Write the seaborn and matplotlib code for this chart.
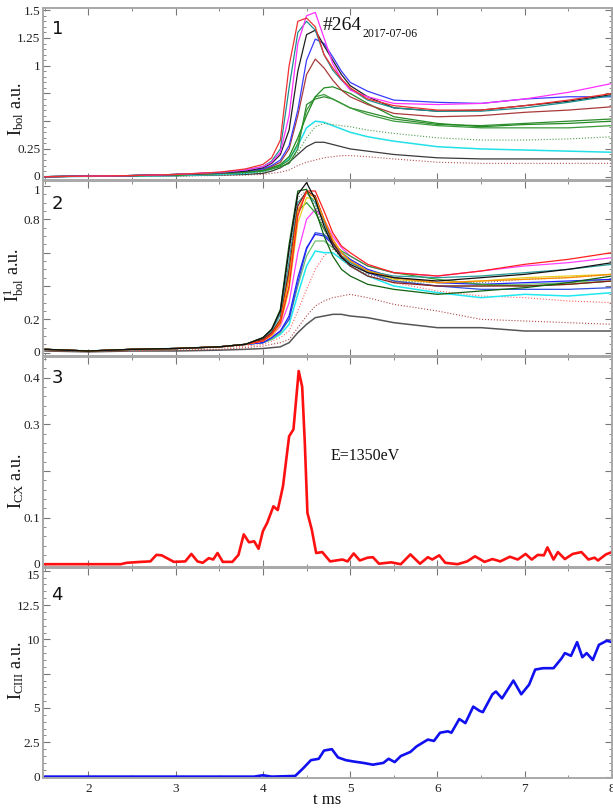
import numpy as np
import pandas as pd
import matplotlib
matplotlib.use("Agg")
import matplotlib.pyplot as plt
import matplotlib.ticker as mticker
import matplotlib.transforms as mtransforms
import seaborn as sns

# ---------------- data ----------------
T_BOL = [1.5, 2.0, 2.5, 3.0, 3.5, 3.8, 4.0, 4.1, 4.2, 4.3, 4.4, 4.5,
         4.6, 4.7, 4.8, 4.9, 5.0, 5.2, 5.5, 6.0, 6.5, 7.0, 7.5, 8.0]

# panel 1: I_bol
bol_red = [0, 0.005, 0.01, 0.02, 0.04, 0.07, 0.11, 0.17, 0.33, 1.0, 1.40, 1.43, 1.35, 1.10, 0.98, 0.88, 0.80, 0.70, 0.64, 0.60, 0.60, 0.64, 0.69, 0.75]
bol_magenta = [0, 0.005, 0.01, 0.02, 0.04, 0.06, 0.09, 0.13, 0.22, 0.55, 1.20, 1.45, 1.48, 1.25, 1.02, 0.88, 0.78, 0.72, 0.66, 0.65, 0.66, 0.70, 0.76, 0.84]
bol_teal = [0, 0.005, 0.01, 0.02, 0.035, 0.06, 0.09, 0.14, 0.25, 0.80, 1.30, 1.40, 1.32, 1.10, 0.96, 0.87, 0.79, 0.69, 0.62, 0.59, 0.59, 0.62, 0.67, 0.73]
bol_black = [0, 0.005, 0.01, 0.02, 0.035, 0.05, 0.08, 0.12, 0.20, 0.42, 0.95, 1.28, 1.32, 1.18, 1.05, 0.92, 0.82, 0.72, 0.62, 0.59, 0.60, 0.64, 0.68, 0.74]
bol_blue = [0, 0.005, 0.01, 0.02, 0.035, 0.05, 0.07, 0.10, 0.15, 0.28, 0.60, 1.05, 1.24, 1.20, 1.08, 0.95, 0.85, 0.77, 0.69, 0.67, 0.66, 0.70, 0.72, 0.72]
bol_brown = [0, 0.005, 0.01, 0.02, 0.03, 0.05, 0.07, 0.09, 0.13, 0.25, 0.55, 0.92, 1.06, 0.98, 0.87, 0.78, 0.72, 0.65, 0.57, 0.54, 0.55, 0.58, 0.60, 0.63]
bol_green_a = [0, 0.005, 0.01, 0.015, 0.03, 0.04, 0.06, 0.08, 0.11, 0.18, 0.35, 0.55, 0.72, 0.80, 0.81, 0.78, 0.75, 0.66, 0.54, 0.48, 0.45, 0.47, 0.48, 0.50]
bol_green_b = [0, 0.005, 0.01, 0.015, 0.03, 0.04, 0.06, 0.08, 0.10, 0.15, 0.30, 0.60, 0.72, 0.74, 0.70, 0.66, 0.62, 0.56, 0.50, 0.46, 0.44, 0.44, 0.44, 0.46]
bol_green_c = [0, 0.005, 0.01, 0.015, 0.03, 0.04, 0.05, 0.07, 0.09, 0.12, 0.25, 0.65, 0.70, 0.72, 0.70, 0.66, 0.62, 0.58, 0.52, 0.47, 0.46, 0.48, 0.50, 0.52]
bol_green_dot = [0, 0.003, 0.006, 0.01, 0.02, 0.03, 0.04, 0.06, 0.08, 0.12, 0.22, 0.35, 0.45, 0.48, 0.47, 0.46, 0.45, 0.42, 0.39, 0.35, 0.33, 0.33, 0.34, 0.36]
bol_cyan = [0, 0.003, 0.006, 0.01, 0.02, 0.03, 0.05, 0.07, 0.10, 0.16, 0.28, 0.44, 0.50, 0.49, 0.46, 0.43, 0.40, 0.36, 0.32, 0.27, 0.25, 0.24, 0.23, 0.22]
bol_gray = [0, 0.003, 0.005, 0.008, 0.015, 0.02, 0.03, 0.05, 0.08, 0.13, 0.20, 0.27, 0.31, 0.31, 0.29, 0.27, 0.25, 0.23, 0.20, 0.17, 0.16, 0.16, 0.16, 0.16]
bol_brown_dot = [0, 0.002, 0.004, 0.006, 0.01, 0.015, 0.02, 0.03, 0.04, 0.06, 0.10, 0.13, 0.15, 0.17, 0.18, 0.19, 0.19, 0.18, 0.16, 0.13, 0.12, 0.12, 0.12, 0.12]

# panel 2: I^1_bol
b1_black = [0.02, 0.01, 0.02, 0.025, 0.035, 0.05, 0.09, 0.14, 0.25, 0.62, 0.95, 1.02, 0.92, 0.76, 0.64, 0.57, 0.53, 0.48, 0.45, 0.43, 0.45, 0.47, 0.50, 0.54]
b1_darkgreen = [0.02, 0.01, 0.02, 0.025, 0.035, 0.05, 0.09, 0.14, 0.26, 0.65, 0.97, 0.98, 0.86, 0.70, 0.58, 0.50, 0.46, 0.41, 0.38, 0.35, 0.37, 0.39, 0.42, 0.46]
b1_red = [0.02, 0.01, 0.02, 0.025, 0.035, 0.05, 0.07, 0.11, 0.18, 0.40, 0.82, 0.97, 0.97, 0.85, 0.72, 0.64, 0.60, 0.53, 0.48, 0.46, 0.49, 0.53, 0.56, 0.60]
b1_orange = [0.02, 0.01, 0.02, 0.025, 0.035, 0.05, 0.07, 0.11, 0.19, 0.45, 0.85, 0.96, 0.93, 0.80, 0.68, 0.60, 0.55, 0.49, 0.45, 0.42, 0.43, 0.44, 0.45, 0.47]
b1_darkred = [0.02, 0.01, 0.02, 0.025, 0.035, 0.05, 0.08, 0.12, 0.20, 0.50, 0.88, 0.97, 0.94, 0.80, 0.66, 0.58, 0.52, 0.46, 0.42, 0.40, 0.40, 0.40, 0.41, 0.43]
b1_teal = [0.02, 0.01, 0.02, 0.025, 0.035, 0.05, 0.08, 0.13, 0.23, 0.55, 0.90, 0.96, 0.90, 0.78, 0.66, 0.58, 0.54, 0.49, 0.46, 0.45, 0.46, 0.48, 0.50, 0.53]
b1_graydot = [0.02, 0.01, 0.02, 0.025, 0.035, 0.05, 0.09, 0.14, 0.24, 0.60, 0.93, 0.97, 0.88, 0.74, 0.63, 0.56, 0.52, 0.47, 0.43, 0.42, 0.42, 0.44, 0.45, 0.47]
b1_gold = [0.02, 0.01, 0.02, 0.025, 0.035, 0.05, 0.07, 0.10, 0.17, 0.38, 0.78, 0.93, 0.92, 0.80, 0.68, 0.60, 0.55, 0.49, 0.44, 0.42, 0.43, 0.45, 0.46, 0.47]
b1_green = [0.02, 0.01, 0.02, 0.025, 0.035, 0.05, 0.08, 0.12, 0.20, 0.48, 0.85, 0.90, 0.84, 0.74, 0.66, 0.61, 0.58, 0.52, 0.48, 0.44, 0.41, 0.40, 0.41, 0.43]
b1_magenta = [0.02, 0.01, 0.02, 0.025, 0.035, 0.05, 0.07, 0.10, 0.16, 0.30, 0.60, 0.80, 0.86, 0.80, 0.70, 0.63, 0.58, 0.52, 0.48, 0.46, 0.49, 0.52, 0.54, 0.57]
b1_blue = [0.02, 0.01, 0.02, 0.025, 0.035, 0.05, 0.06, 0.09, 0.13, 0.22, 0.45, 0.63, 0.71, 0.70, 0.65, 0.60, 0.56, 0.50, 0.45, 0.42, 0.41, 0.42, 0.43, 0.44]
b1_royalblue = [0.02, 0.01, 0.02, 0.025, 0.035, 0.05, 0.06, 0.09, 0.13, 0.20, 0.42, 0.62, 0.72, 0.71, 0.66, 0.60, 0.55, 0.48, 0.43, 0.40, 0.38, 0.38, 0.38, 0.39]
b1_lightgreen = [0.02, 0.01, 0.02, 0.025, 0.035, 0.05, 0.06, 0.08, 0.12, 0.20, 0.40, 0.58, 0.67, 0.67, 0.63, 0.58, 0.55, 0.49, 0.43, 0.40, 0.40, 0.41, 0.42, 0.44]
b1_cyan = [0.02, 0.01, 0.02, 0.025, 0.035, 0.05, 0.06, 0.08, 0.11, 0.17, 0.35, 0.52, 0.61, 0.60, 0.60, 0.56, 0.52, 0.46, 0.40, 0.36, 0.33, 0.35, 0.34, 0.36]
b1_salmon_dot = [0.02, 0.01, 0.015, 0.02, 0.03, 0.04, 0.05, 0.07, 0.09, 0.13, 0.25, 0.38, 0.50, 0.58, 0.62, 0.60, 0.56, 0.48, 0.42, 0.37, 0.34, 0.33, 0.31, 0.30]
b1_brown_dot = [0.01, 0.005, 0.01, 0.015, 0.02, 0.03, 0.04, 0.05, 0.06, 0.08, 0.15, 0.22, 0.28, 0.31, 0.33, 0.34, 0.35, 0.33, 0.29, 0.25, 0.20, 0.19, 0.18, 0.17]
b1_gray = [0.01, 0.005, 0.01, 0.01, 0.015, 0.02, 0.025, 0.03, 0.035, 0.06, 0.12, 0.17, 0.21, 0.22, 0.23, 0.23, 0.22, 0.21, 0.18, 0.15, 0.15, 0.13, 0.13, 0.13]

# panel 3: I_CX (E=1350 eV)
t_cx = [1.5, 2.37, 2.44, 2.6, 2.71, 2.78, 2.84, 2.91, 2.98, 3.11, 3.18, 3.25, 3.31, 3.38, 3.43, 3.48,
        3.54, 3.65, 3.72, 3.78, 3.84, 3.9, 3.95, 4.0, 4.05, 4.12, 4.17, 4.23, 4.3, 4.35, 4.41, 4.45,
        4.48, 4.51, 4.56, 4.61, 4.68, 4.77, 4.91, 4.97, 5.04, 5.11, 5.2, 5.26, 5.33, 5.47, 5.58, 5.69,
        5.8, 5.89, 5.94, 6.02, 6.09, 6.23, 6.34, 6.43, 6.54, 6.63, 6.72, 6.83, 6.92, 7.01, 7.08, 7.15,
        7.22, 7.26, 7.33, 7.38, 7.46, 7.55, 7.65, 7.73, 7.8, 7.84, 7.93, 8.0]
v_cx = [0.0, 0.0, 0.003, 0.005, 0.006, 0.02, 0.019, 0.012, 0.005, 0.006, 0.022, 0.006, 0.003, 0.013, 0.01, 0.024,
        0.005, 0.005, 0.02, 0.064, 0.047, 0.049, 0.033, 0.071, 0.089, 0.124, 0.116, 0.167, 0.274, 0.289, 0.414, 0.38,
        0.26, 0.11, 0.074, 0.024, 0.026, 0.006, 0.01, 0.006, 0.023, 0.008, 0.014, 0.015, 0.001, 0.004, 0.0, 0.021,
        0.001, 0.015, 0.01, 0.019, 0.003, 0.0, 0.006, 0.017, 0.005, 0.011, 0.006, 0.016, 0.01, 0.022, 0.01, 0.02,
        0.019, 0.036, 0.01, 0.026, 0.011, 0.022, 0.026, 0.01, 0.014, 0.008, 0.021, 0.026]

# panel 4: I_CIII
t_c3 = [1.5, 3.9, 4.0, 4.1, 4.37, 4.46, 4.55, 4.64, 4.7, 4.79, 4.86, 4.95, 5.04, 5.15, 5.26, 5.38, 5.44,
        5.51, 5.58, 5.69, 5.76, 5.89, 5.96, 6.03, 6.12, 6.16, 6.25, 6.32, 6.41, 6.48, 6.52, 6.63, 6.67,
        6.74, 6.87, 6.96, 7.05, 7.12, 7.21, 7.33, 7.42, 7.46, 7.53, 7.6, 7.66, 7.71, 7.78, 7.85, 7.94, 8.0]
v_c3 = [0.0, 0.0, 0.1, 0.0, 0.05, 0.6, 1.2, 1.3, 1.9, 2.0, 1.4, 1.2, 1.1, 1.0, 0.87, 1.0, 1.3,
        1.06, 1.5, 1.8, 2.2, 2.7, 2.6, 3.2, 3.3, 3.2, 4.2, 3.9, 5.1, 4.8, 4.7, 6.0, 6.2,
        5.7, 7.0, 6.0, 6.7, 7.8, 7.9, 7.9, 8.6, 9.0, 8.8, 9.8, 8.7, 9.0, 8.5, 9.6, 9.9, 9.8]

# ---------------- style ----------------
sns.set_style("ticks")
plt.rcParams["font.family"] = ["Liberation Serif", "DejaVu Serif"]
plt.rcParams["mathtext.fontset"] = "custom"
plt.rcParams["mathtext.rm"] = "Liberation Serif"
plt.rcParams["mathtext.it"] = "Liberation Serif:italic"

SPINE = "#a8a8a8"
fig = plt.figure(figsize=(6.13, 8.09), dpi=100)
H = 809.0
W = 613.0
left = 43 / W
width = 569 / W
bounds = [(8, 180), (181, 356), (357, 567), (568, 778)]
axes = []
for i, (top, bot) in enumerate(bounds):
    ax = fig.add_axes([left, 1 - bot / H, width, (bot - top) / H],
                      sharex=axes[0] if axes else None)
    axes.append(ax)

def lp(ax, y, color, lw=0.9, ls="-", t=T_BOL):
    sns.lineplot(x=t, y=y, ax=ax, color=color, linewidth=lw, linestyle=ls,
                 estimator=None, sort=False)

ax1, ax2, ax3, ax4 = axes

# panel 1 lines
lp(ax1, bol_brown_dot, "#b05050", 0.8, ":")
lp(ax1, bol_gray, "#3a3a3a")
lp(ax1, bol_cyan, "#22e0e8", 1.1)
lp(ax1, bol_green_dot, "#4f9a4f", 0.8, ":")
lp(ax1, bol_green_c, "#2e8b2e")
lp(ax1, bol_green_b, "#3c9a3c")
lp(ax1, bol_green_a, "#228b22")
lp(ax1, bol_brown, "#a83a3a")
lp(ax1, bol_blue, "#3a3aff")
lp(ax1, bol_black, "#202020")
lp(ax1, bol_teal, "#1a9090")
lp(ax1, bol_magenta, "#ff30ff")
lp(ax1, bol_red, "#f03030")

# panel 2 lines
lp(ax2, b1_gray, "#555555", 1.1)
lp(ax2, b1_brown_dot, "#b04848", 0.8, ":")
lp(ax2, b1_salmon_dot, "#ff6060", 0.8, ":")
lp(ax2, b1_cyan, "#20e8f0", 1.1)
lp(ax2, b1_lightgreen, "#6fbf6f")
lp(ax2, b1_royalblue, "#3050e0")
lp(ax2, b1_blue, "#2020ff")
lp(ax2, b1_magenta, "#ff40ff")
lp(ax2, b1_green, "#30a030")
lp(ax2, b1_gold, "#e8d020")
lp(ax2, b1_graydot, "#707070", 0.8, ":")
lp(ax2, b1_teal, "#2a9a9a")
lp(ax2, b1_darkred, "#8b1a1a")
lp(ax2, b1_orange, "#ff8c00")
lp(ax2, b1_red, "#ff2020")
lp(ax2, b1_darkgreen, "#106010")
lp(ax2, b1_black, "#111111")

# panel 3, 4
lp(ax3, v_cx, "#ff1010", 1.9, "-", t_cx)
lp(ax4, v_c3, "#1010f0", 1.9, "-", t_c3)

# ---------------- axes formatting ----------------
ylims = [(-0.03, 1.52), (-0.02, 1.03), (-0.006, 0.444), (-0.1, 15.2)]
majors = [0.25, 0.2, 0.1, 2.5]
minors = [0.05, 0.05, 0.02, 0.5]
shown = [{0, 0.25, 1, 1.25, 1.5}, {0, 0.2, 0.8, 1}, {0, 0.1, 0.3, 0.4}, {0, 2.5, 5, 10, 12.5, 15}]
top_val = [None, 1.0, None, 15.0]
ylabels = [r"I$_{\mathrm{bol}}$ a.u.", r"I$^{\mathrm{1}}_{\mathrm{bol}}$ a.u.",
           r"I$_{\mathrm{CX}}$ a.u.", r"I$_{\mathrm{CIII}}$ a.u."]
ylab_pos = [0.41, 0.46, 0.41, 0.51]
nums = ["1", "2", "3", "4"]
num_pos = [0.88, 0.87, 0.9, 0.87]

for i, ax in enumerate(axes):
    ax.set_xlim(1.48, 8.0)
    ax.set_ylim(*ylims[i])
    ax.yaxis.set_major_locator(mticker.MultipleLocator(majors[i]))
    ax.yaxis.set_minor_locator(mticker.MultipleLocator(minors[i]))
    ax.xaxis.set_major_locator(mticker.MultipleLocator(1))
    ax.xaxis.set_minor_locator(mticker.MultipleLocator(0.5))
    sh = shown[i]

    def fmt(v, pos, sh=sh):
        for s in sh:
            if abs(v - s) < 1e-6:
                return ("%g" % s)
        return ""
    ax.yaxis.set_major_formatter(mticker.FuncFormatter(fmt))
    ax.tick_params(axis="both", which="both", direction="in", top=True, right=True,
                   colors="#777777", labelcolor="#222222", labelsize=9.5)
    ax.tick_params(which="major", length=5, width=0.8)
    ax.tick_params(which="minor", length=2.5, width=0.6)
    ax.tick_params(axis="y", which="major", pad=2)
    for sp in ax.spines.values():
        sp.set_color(SPINE)
        sp.set_linewidth(1.4)
    ax.set_ylabel(ylabels[i], fontsize=13, color="#111111")
    ax.yaxis.set_label_coords(-0.03, ylab_pos[i])
    ax.text(0.015, num_pos[i], nums[i], transform=ax.transAxes, fontsize=13,
            family="DejaVu Sans", ha="left", va="center", color="#111111")
    ax.set_xlabel("")
    if i < 3:
        ax.tick_params(labelbottom=False)

fig.canvas.draw()
# nudge labels at panel joins so they do not collide
for i, ax in enumerate(axes):
    for tk in ax.yaxis.get_major_ticks():
        v = tk.get_loc()
        if top_val[i] is not None and abs(v - top_val[i]) < 1e-6:
            tk.label1.set_transform(tk.label1.get_transform() +
                                    mtransforms.ScaledTranslation(0, -4 / 100, fig.dpi_scale_trans))
        if i < 3 and abs(v) < 1e-9:
            tk.label1.set_transform(tk.label1.get_transform() +
                                    mtransforms.ScaledTranslation(0, 1 / 100, fig.dpi_scale_trans))

ax4.set_xlabel("t ms", fontsize=12, color="#111111", labelpad=-2)

ax3.text(4.78, 0.232, "E=1350eV", fontsize=11.5, ha="left", va="center", color="#111111")

t1 = ax1.text(4.68, 1.32, "#264", fontsize=14, ha="left", va="baseline", color="#111111")
fig.canvas.draw()
bb = t1.get_window_extent()
x_fig, y_fig = fig.transFigure.inverted().transform((bb.x1, bb.y0))
fig.text(x_fig + 1 / W, y_fig - 3 / H, "2017-07-06", fontsize=8.5, ha="left", va="baseline",
         color="#111111")

fig.savefig("out.png", dpi=100, facecolor="white")
